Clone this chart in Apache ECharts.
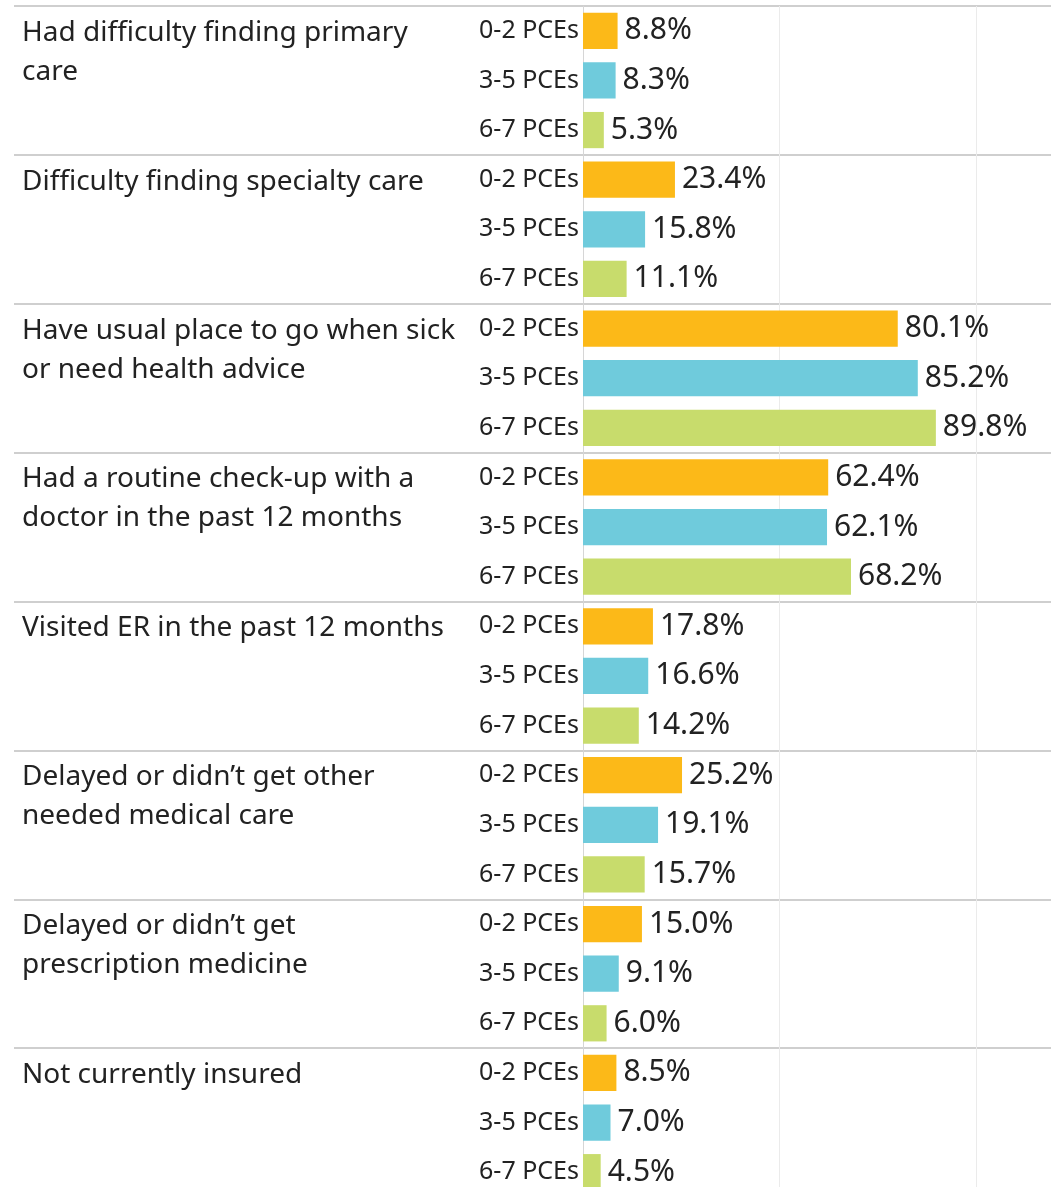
<!DOCTYPE html>
<html>
<head>
<meta charset="utf-8">
<script src="https://cdn.jsdelivr.net/npm/echarts@6/dist/echarts.min.js"></script>
<style>
	html, body { margin: 0; padding: 0; background: #fff; overflow: hidden; }
	#chart { width: 1051px; height: 1200px; }
</style>
</head>
<body>
<div id="chart"></div>
<script>
// groups of questions (line breaks as in the picture)
var groupNames = [
	'Had difficulty finding primary\ncare',
	'Difficulty finding specialty care',
	'Have usual place to go when sick\nor need health advice',
	'Had a routine check-up with a\ndoctor in the past 12 months',
	'Visited ER in the past 12 months',
	'Delayed or didn\u2019t get other\nneeded medical care',
	'Delayed or didn\u2019t get\nprescription medicine',
	'Not currently insured'
];
var bands = ['0-2 PCEs', '3-5 PCEs', '6-7 PCEs'];
var bandColors = ['#fcb918', '#6fcbdc', '#c8dc6c'];

// percent per group, in band order
var pce02 = [8.8, 23.4, 80.1, 62.4, 17.8, 25.2, 15.0, 8.5];
var pce35 = [8.3, 15.8, 85.2, 62.1, 16.6, 19.1, 9.1, 7.0];
var pce67 = [5.3, 11.1, 89.8, 68.2, 14.2, 15.7, 6.0, 4.5];

var gridValues = [50, 100];

var FONT = '"Noto Sans", "Open Sans", sans-serif';

// flatten into rows: group, band
var categories = [];
var values = [];
groupNames.forEach(function (g, i) {
	var row = [pce02[i], pce35[i], pce67[i]];
	bands.forEach(function (b, j) {
		categories.push(i + '|' + b);
		values.push(row[j]);
	});
});

var myChart = echarts.init(document.getElementById('chart'));
myChart.setOption({
	animation: false,
	grid: [
		// bars
		{ left: 583, right: 0, top: 6, bottom: 3, outerBoundsMode: 'none' },
		// full-width group separators
		{ left: 14, right: 0, top: 6, bottom: 3, outerBoundsMode: 'none' }
	],
	xAxis: [{
		type: 'value',
		gridIndex: 0,
		min: 0,
		max: 119.1,
		axisLine: { show: false },
		axisTick: { show: false },
		axisLabel: { show: false },
		splitLine: { show: false }
	}, {
		type: 'value',
		gridIndex: 1,
		min: 0,
		max: 1,
		show: false
	}],
	yAxis: [{
		type: 'category',
		gridIndex: 0,
		inverse: true,
		data: categories,
		axisLine: { lineStyle: { color: '#d6d6d6', width: 1 } },
		axisTick: { show: false },
		axisLabel: {
			margin: 4,
			padding: [4, 0, 0, 0],
			fontFamily: FONT,
			fontSize: 25,
			color: '#222',
			formatter: function (v) { return v.split('|')[1]; }
		},
		splitLine: { show: false }
	}, {
		type: 'category',
		gridIndex: 1,
		inverse: true,
		data: categories,
		axisLine: { show: false },
		axisTick: { show: false },
		axisLabel: { show: false },
		splitLine: {
			show: true,
			interval: function (index) { return index % 3 === 0; },
			lineStyle: { color: '#cfcfcf', width: 2 }
		}
	}],
	series: [{
		type: 'bar',
		xAxisIndex: 0,
		yAxisIndex: 0,
		data: values,
		barCategoryGap: '27%',
		z: 2,
		itemStyle: {
			color: function (p) { return bandColors[p.dataIndex % 3]; }
		},
		label: {
			show: true,
			position: 'right',
			distance: 7,
			padding: [4, 0, 0, 0],
			fontFamily: FONT,
			fontSize: 30,
			color: '#222',
			formatter: function (p) { return p.value.toFixed(1) + '%'; }
		},
		markLine: {
			silent: true,
			symbol: 'none',
			z: 1,
			label: { show: false },
			lineStyle: { color: '#ebebeb', width: 1, type: 'solid' },
			data: gridValues.map(function (v) { return { xAxis: v }; })
		}
	}]
});

// group names at the first row of each group
var textEls = groupNames.map(function (name, i) {
	var y = myChart.convertToPixel({ yAxisIndex: 0 }, categories[i * 3]);
	return {
		type: 'text',
		x: 22,
		y: y - 17.5,
		style: {
			text: name,
			fontFamily: FONT,
			fontSize: 28,
			lineHeight: 39,
			fill: '#222',
			verticalAlign: 'top'
		}
	};
});
myChart.setOption({ graphic: textEls });
</script>
</body>
</html>
